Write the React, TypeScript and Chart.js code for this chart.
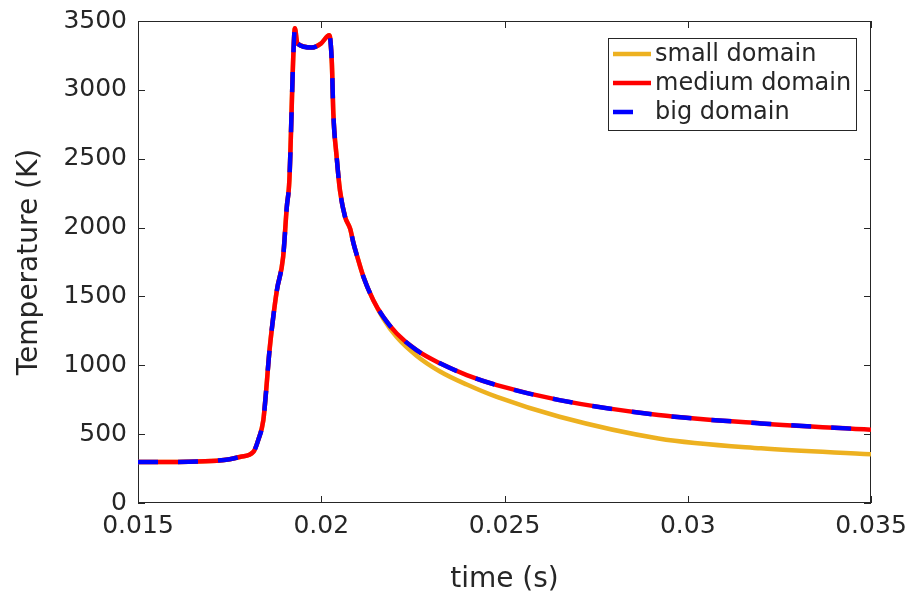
import React, { useEffect, useRef } from "react";
import { Chart, registerables } from "chart.js";

Chart.register(...registerables);

// Sample times (s) shared by the medium and big domain runs
const timeS = [
  0.015, 0.016, 0.017, 0.0175, 0.0178, 0.01815, 0.01828, 0.01842, 0.01849, 0.01858,
  0.01868, 0.01879, 0.01896, 0.01906, 0.01913, 0.01924, 0.01928, 0.01935, 0.01974, 0.01999,
  0.02022, 0.02029, 0.02033, 0.02042, 0.02051, 0.02065, 0.02079, 0.02088, 0.02097, 0.02115,
  0.02142, 0.02169, 0.02206, 0.0226, 0.02324, 0.02397, 0.02479, 0.0265, 0.0292, 0.032, 0.035,
];

// Temperature (K)
const tempMedium = [
  297, 298, 305, 318, 336, 372, 457, 602, 796, 1086,
  1328, 1546, 1787, 2150, 2344, 3263, 3447, 3336, 3307, 3336,
  3396, 3191, 2828, 2513, 2271, 2078, 1990, 1885, 1800, 1643,
  1473, 1352, 1231, 1110, 1014, 929, 856, 747, 639, 578, 532,
];
const tempBig = [
  297, 298, 305, 318, 336, 372, 457, 602, 796, 1086,
  1328, 1546, 1787, 2150, 2344, 3263, 3447, 3336, 3307, 3336,
  3396, 3191, 2828, 2513, 2271, 2078, 1990, 1885, 1800, 1643,
  1473, 1352, 1231, 1110, 1014, 929, 856, 747, 639, 578, 532,
];
const tempSmall = [
  297, 298, 305, 318, 336, 372, 457, 602, 796, 1086,
  1328, 1546, 1787, 2150, 2344, 3263, 3447, 3336, 3307, 3336,
  3396, 3191, 2828, 2513, 2271, 2078, 1990, 1885, 1800, 1643,
  1473, 1340, 1205, 1070, 955, 860, 770, 626, 469, 397, 354,
];

const xTickLabels = ["0.015", "0.02", "0.025", "0.03", "0.035"];
const yTickLabels = ["0", "500", "1000", "1500", "2000", "2500", "3000", "3500"];

const seriesNames = ["small domain", "medium domain", "big domain"];
const seriesColors = ["#EDB120", "#FF0000", "#0000FF"];

const AXIS = "#262626";
const FONT = "'DejaVu Sans', sans-serif";
const LINE_W = 4.5;

const toPoints = (ys: number[]) => ys.map((y, i) => ({ x: timeS[i], y }));

// Box around the axes with inward ticks on all four sides
const framePlugin = {
  id: "frame",
  beforeDatasetsDraw(chart: any) {
    const { ctx, chartArea: a, scales } = chart;
    const xs = scales.x;
    const ys = scales.y;
    const len = 7;
    ctx.save();
    ctx.strokeStyle = AXIS;
    ctx.lineWidth = 1;
    ctx.strokeRect(a.left + 0.5, a.top + 0.5, a.right - a.left - 1, a.bottom - a.top - 1);
    ctx.beginPath();
    xs.ticks.forEach((t: any) => {
      const px = Math.round(xs.getPixelForValue(t.value)) + 0.5;
      ctx.moveTo(px, a.bottom);
      ctx.lineTo(px, a.bottom - len);
      ctx.moveTo(px, a.top);
      ctx.lineTo(px, a.top + len);
    });
    ys.ticks.forEach((t: any) => {
      const py = Math.round(ys.getPixelForValue(t.value)) + 0.5;
      ctx.moveTo(a.left, py);
      ctx.lineTo(a.left + len, py);
      ctx.moveTo(a.right, py);
      ctx.lineTo(a.right - len, py);
    });
    ctx.stroke();
    ctx.restore();
  },
};

// Boxed legend in the upper right of the plot
const legendPlugin = {
  id: "boxLegend",
  afterDraw(chart: any) {
    const { ctx, chartArea: a } = chart;
    const boxW = 248;
    const boxH = 92;
    const x0 = a.right - 15 - boxW;
    const y0 = a.top + 17;
    ctx.save();
    ctx.fillStyle = "#ffffff";
    ctx.fillRect(x0, y0, boxW, boxH);
    ctx.strokeStyle = AXIS;
    ctx.lineWidth = 1;
    ctx.strokeRect(x0 + 0.5, y0 + 0.5, boxW, boxH);
    ctx.font = `24px ${FONT}`;
    ctx.textBaseline = "middle";
    ctx.textAlign = "left";
    seriesNames.forEach((name, i) => {
      const cy = y0 + 16 + i * 29;
      ctx.beginPath();
      ctx.strokeStyle = seriesColors[i];
      ctx.lineWidth = LINE_W;
      ctx.setLineDash(i === 2 ? [20, 20] : []);
      ctx.moveTo(x0 + 5, cy);
      ctx.lineTo(x0 + 43, cy);
      ctx.stroke();
      ctx.setLineDash([]);
      ctx.fillStyle = AXIS;
      ctx.fillText(name, x0 + 47, cy + 1);
    });
    ctx.restore();
  },
};

export default function App() {
  const canvasRef = useRef<HTMLCanvasElement | null>(null);

  useEffect(() => {
    const canvas = canvasRef.current;
    if (!canvas) return;
    const chart = new Chart(canvas, {
      type: "line",
      data: {
        datasets: [
          {
            label: seriesNames[0],
            data: toPoints(tempSmall),
            borderColor: seriesColors[0],
            borderWidth: LINE_W,
            pointRadius: 0,
            cubicInterpolationMode: "monotone",
            order: 3,
          },
          {
            label: seriesNames[1],
            data: toPoints(tempMedium),
            borderColor: seriesColors[1],
            borderWidth: LINE_W,
            pointRadius: 0,
            cubicInterpolationMode: "monotone",
            order: 2,
          },
          {
            label: seriesNames[2],
            data: toPoints(tempBig),
            borderColor: seriesColors[2],
            borderWidth: LINE_W,
            borderDash: [20, 20],
            pointRadius: 0,
            cubicInterpolationMode: "monotone",
            order: 1,
          },
        ],
      },
      options: {
        animation: false,
        responsive: false,
        events: [],
        layout: { padding: { left: 0, right: 40, top: 21, bottom: 0 } },
        plugins: {
          legend: { display: false },
          tooltip: { enabled: false },
        },
        scales: {
          x: {
            type: "linear",
            min: 0.015,
            max: 0.035,
            ticks: {
              stepSize: 0.005,
              autoSkip: false,
              maxRotation: 0,
              padding: 8,
              color: AXIS,
              font: { family: FONT, size: 25 },
              callback: (_v: any, i: number) => xTickLabels[i],
            },
            grid: { display: false, drawTicks: false },
            border: { display: false },
            title: {
              display: true,
              text: "time (s)",
              color: AXIS,
              font: { family: FONT, size: 28 },
              padding: { top: 0, bottom: -6 },
            },
            afterFit: (s: any) => {
              s.height = 88;
              s.paddingLeft = 0;
              s.paddingRight = 0;
            },
          },
          y: {
            type: "linear",
            min: 0,
            max: 3500,
            ticks: {
              stepSize: 500,
              autoSkip: false,
              padding: 11,
              color: AXIS,
              font: { family: FONT, size: 25 },
              callback: (_v: any, i: number) => yTickLabels[i],
            },
            grid: { display: false, drawTicks: false },
            border: { display: false },
            title: {
              display: true,
              text: "Temperature (K)",
              color: AXIS,
              font: { family: FONT, size: 28 },
              padding: { top: 13, bottom: 0 },
            },
            afterFit: (s: any) => {
              s.width = 138;
              s.paddingTop = 0;
              s.paddingBottom = 0;
            },
          },
        },
      },
      plugins: [framePlugin, legendPlugin],
    });
    return () => chart.destroy();
  }, []);

  return (
    <div style={{ position: "absolute", left: 0, top: 0, width: 911, height: 591, background: "#fff" }}>
      <canvas ref={canvasRef} width={911} height={591} />
    </div>
  );
}
